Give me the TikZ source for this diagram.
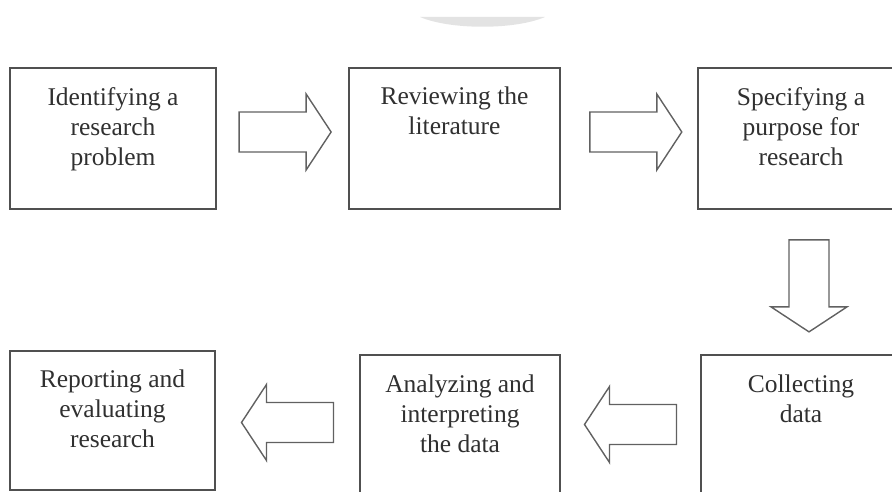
\documentclass[tikz,border=0pt]{standalone}
\usepackage{fontspec}
\setmainfont{Liberation Serif}
\usetikzlibrary{calc}
\definecolor{boxgray}{HTML}{505050}
\definecolor{textgray}{HTML}{303030}
\tikzset{
    stage/.style={draw=boxgray, line width=2pt, minimum width=206pt, minimum height=141pt, inner sep=0pt},
    stagetext/.style={anchor=north, yshift=-20pt, align=center, text=textgray, inner sep=0pt,
        font=\fontsize{25.5}{30}\selectfont},
    arrowline/.style={draw=boxgray!90, line width=1.4pt, line join=miter},
    blockarrow/.pic={
        \draw[arrowline] (-46,-20) -- (21,-20) -- (21,-38) -- (46,0) -- (21,38) -- (21,20) -- (-46,20) -- cycle;
    },
}
\begin{document}
\begin{tikzpicture}[x=1pt, y=1pt]
            \useasboundingbox (0,0) rectangle (892,492);
            \clip (0,0) rectangle (892,492);
            \fill[gray!22] (420,475) .. controls (450,462) and (515,462) .. (545,475) -- cycle;
            \node[stage, label={[stagetext]north:{Identifying a\\research\\problem}}] (ident) at (113,353.5) {};
            \node[stage, minimum width=211pt, label={[stagetext]north:{Reviewing the\\literature}}] (review) at (454.5,353.5) {};
            \node[stage, label={[stagetext]north:{Specifying a\\purpose for\\research}}] (purpose) at (801,353.5) {};
            \node[stage, minimum width=205pt, minimum height=139pt, label={[stagetext]north:{Reporting and\\evaluating\\research}}] (report) at (112.5,71.5) {};
            \node[stage, minimum width=200pt, minimum height=139pt, label={[stagetext, yshift=-1pt]north:{Analyzing and\\interpreting\\the data}}] (analyze) at (460,67.5) {};
            \node[stage, minimum width=200pt, minimum height=139pt, label={[stagetext, yshift=-1pt]north:{Collecting\\data}}] (collect) at (801,67.5) {};
            \pic[yshift=6.5pt] at ($(ident.east)!0.52!(review.west)$) {blockarrow};
            \pic[yshift=6.5pt] at ($(review.east)!0.55!(purpose.west)$) {blockarrow};
            \pic[rotate=-90] at ($(purpose.south)!0.52!(collect.north)+(8,-1)$) {blockarrow};
            \pic[rotate=180] at ($(collect.west)!0.5!(analyze.east)$) {blockarrow};
            \pic[rotate=180] at ($(analyze.west)!0.5!(report.east)$) {blockarrow};
        \end{tikzpicture}
\end{document}
